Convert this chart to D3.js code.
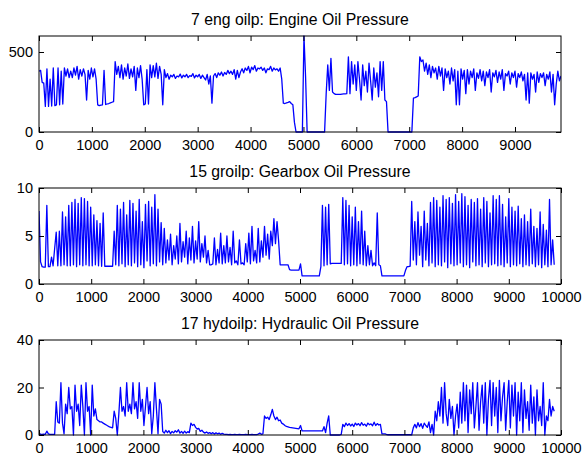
<!DOCTYPE html>
<html>
<head>
<meta charset="utf-8">
<script src="https://cdn.jsdelivr.net/npm/d3@7"></script>
<style>
  html, body { margin: 0; padding: 0; background: #fff; }
  svg { display: block; }
  text { font-family: "Liberation Sans", Arial, Helvetica, sans-serif; fill: #000; }
</style>
</head>
<body>
<svg id="chart" width="584" height="455"></svg>
<script>
// Sample spacing of the logged channels (record index units)
const sampleStep = 30;

// 7 eng oilp: Engine Oil Pressure
const engineOil = [
  380,385,310,305,160,395,160,330,162,400,
  165,170,400,170,380,175,400,350,395,340,
  380,340,400,355,410,330,390,350,395,360,
  200,385,330,400,345,395,330,170,165,168,
  170,385,172,175,178,182,186,190,440,360,
  410,340,420,330,400,350,425,335,395,345,
  410,260,400,340,415,330,170,175,390,175,
  420,340,415,345,430,335,410,360,170,390,
  340,365,330,355,345,360,335,350,345,362,
  338,355,345,360,340,352,348,365,338,355,
  345,360,335,355,340,325,360,300,350,180,
  350,365,340,370,355,375,350,372,360,385,
  365,380,360,390,330,385,340,375,395,370,
  400,385,410,370,405,390,415,380,400,395,
  405,385,400,370,395,390,410,380,400,388,
  395,380,400,330,180,178,182,185,190,178,
  170,60,0,0,0,0,0,600,350,0,
  0,0,0,0,0,0,0,0,0,0,
  0,240,420,260,460,250,240,235,235,235,
  235,237,238,238,240,470,240,440,300,420,
  260,440,330,200,420,290,380,250,430,320,
  200,400,280,370,220,440,260,440,200,190,
  0,0,0,0,0,0,0,0,0,0,
  0,0,0,0,0,0,212,215,220,225,
  470,440,450,380,430,360,420,340,410,370,
  400,330,410,350,400,260,395,340,380,300,
  400,320,390,170,380,170,395,330,385,240,
  390,300,380,340,395,260,370,335,390,320,
  380,290,375,340,390,250,370,345,385,310,
  375,330,390,260,365,350,380,300,370,340,
  380,280,365,340,375,320,360,200,370,180,
  370,330,360,250,375,310,365,340,370,290,
  360,330,375,250,360,170,300,380,320,350
];

// 15 groilp: Gearbox Oil Pressure
const gearboxOil = [
  7.6,2.3,1.8,1.75,1.75,8.2,1.8,1.8,2.8,1.9,
  3.7,5.4,1.9,5.5,1.9,7.5,2.0,7.0,1.9,8.2,
  1.9,8.5,2.0,8.8,1.8,8.4,2.0,9.0,1.9,8.9,
  2.0,8.6,1.9,8.0,1.9,7.2,2.0,6.6,1.9,6.3,
  1.85,7.4,1.85,1.85,1.85,1.85,1.85,1.85,5.5,2.0,
  8.2,1.9,7.8,2.1,8.5,1.8,7.2,2.0,8.7,1.9,
  8.4,2.2,7.6,1.8,8.8,2.0,6.5,1.7,8.3,2.4,
  8.6,1.9,8.0,2.1,9.3,1.9,7.8,2.3,6.4,2.0,
  5.8,2.2,4.6,2.5,5.2,2.0,4.0,2.6,5.0,2.1,
  6.3,2.3,4.4,2.8,5.5,2.1,4.8,2.5,6.0,2.2,
  4.5,2.6,6.5,2.3,4.2,2.8,5.0,2.2,3.5,2.0,
  2.0,2.1,4.8,2.0,3.6,2.2,5.3,2.1,4.0,2.2,
  5.0,2.3,3.8,2.0,5.5,2.2,2.4,2.0,4.6,2.1,
  2.2,2.0,4.2,2.3,5.3,2.1,6.0,2.4,3.5,2.2,
  5.8,2.3,4.5,2.8,6.0,3.0,5.2,2.6,5.5,4.0,
  6.8,4.2,6.5,4.5,2.0,2.0,2.0,2.0,2.0,2.0,
  1.5,1.45,1.45,1.45,1.45,1.45,1.45,2.1,0.85,0.85,
  0.85,0.85,0.85,0.85,0.85,0.85,0.85,0.85,0.85,0.85,
  1.8,8.2,1.9,8.0,2.0,8.3,2.1,2.15,2.15,2.15,
  2.15,2.15,2.15,2.15,9.0,2.0,8.7,2.1,8.2,1.9,
  7.0,2.0,8.0,1.9,6.5,2.1,7.6,2.0,5.5,1.9,
  4.0,2.0,3.5,1.9,2.2,1.9,7.4,2.0,1.9,0.85,
  0.85,0.85,0.85,0.85,0.85,0.85,0.85,0.85,0.85,0.85,
  0.85,0.85,0.85,0.85,1.4,1.8,1.8,1.85,8.6,2.5,
  6.5,2.0,7.5,3.0,6.0,1.8,7.6,2.5,6.3,1.9,
  8.5,2.2,9.0,1.8,8.7,2.0,8.0,1.9,9.2,2.3,
  8.8,1.7,9.0,2.1,8.4,1.9,9.3,2.0,8.6,2.2,
  9.4,1.8,9.1,2.0,8.2,1.7,8.8,2.3,8.5,1.9,
  8.9,2.0,7.8,1.8,9.0,2.2,8.6,1.8,7.4,2.0,
  9.2,2.1,8.8,1.9,9.2,2.0,8.3,1.8,7.0,2.2,
  8.9,1.8,8.0,2.0,7.6,1.9,8.1,2.1,6.8,1.8,
  7.2,2.0,6.5,1.9,7.8,2.1,6.0,1.8,5.8,2.0,
  7.5,1.7,6.2,2.0,5.6,1.8,8.8,2.0,4.6,2.0
];

// 17 hydoilp: Hydraulic Oil Pressure
const hydraulicOil = [
  0.8,0.3,0.3,0.4,0.3,1.6,0.5,0.3,0.3,0.3,
  0.3,14,5.5,5,22,5,0.5,13,9,20,
  11,12,0,21,10,13,4,21,12,0,
  22,10,12,0,21,8,11,6.5,6.0,5.5,
  5.5,5.0,4.6,4.2,3.8,3.4,3.2,3.0,10,7,
  0,9,20,10,12,8,22,10,13,9,
  22,11,14,7,22,10,15,4,12,20,
  9,14,0.5,8,22,11,0.5,15,13,1.5,
  0.8,2,1,1.8,0.6,1.5,0.9,1.8,1.2,2.2,
  0.8,1.5,0.7,1.6,0.8,1.4,1.0,5.0,4.0,4.5,
  3.2,2.5,2.8,1.5,2.0,1.2,0.8,1.3,0.7,1.0,
  0.5,1.0,0.4,0.9,0.5,0.8,0.3,0.7,0.4,0.3,
  0.3,0.2,0.3,0.2,0.2,0.3,0.2,0.2,0.3,0.2,
  0.2,0.2,0.3,0.2,0.2,0.2,0.3,0.2,0.2,0.2,
  0.4,0.8,0.3,0.5,8.0,7.0,7.5,6.5,8.5,10.8,
  8.0,6.5,7.5,6.0,6.3,5.0,4.6,4.0,3.6,3.4,
  3.2,3.1,3.0,2.9,2.8,2.7,2.6,4.0,1.7,1.7,
  1.7,1.7,1.7,1.7,1.7,1.7,1.7,1.7,1.7,1.7,
  1.7,1.7,3.5,1.0,5,8,0,0,0,0,
  0,0,0,0.3,4.5,3.5,5.0,4.0,4.8,3.8,
  4.6,3.6,5.0,4.2,4.8,3.9,5.2,4.1,4.6,3.7,
  5.0,4.3,4.7,3.9,5.4,4.0,4.8,4.2,4.5,0.5,
  0.5,0.5,0.2,0.1,0.1,0.1,0.1,0.1,0.1,0.1,
  0.1,0.1,0.1,0.1,0.1,0.1,0.1,0.1,0.1,3,
  4.5,3.0,5.2,3.5,4.8,2.8,5.0,4.0,3.2,5.5,
  1.0,4.5,0,10,6,14,8,20,5,22,
  9,4,15,7,12,0,8,13,3,18,
  5,22,6,21,1,19,9,22,3,12,
  22,2,14,21,5,22,0,15,23,4,
  22,8,20,1,23,6,16,22,2,14,
  23,3,21,8,22,0,18,6,22,1,
  19,7,14,2,21,5,16,0,19,6,
  12,4,22,0,8,6,15,8,12,10
];

// Panel titles and axis ticks
const titles = [
  "7 eng oilp: Engine Oil Pressure",
  "15 groilp: Gearbox Oil Pressure",
  "17 hydoilp: Hydraulic Oil Pressure"
];
const xTicksEngine = [0,1000,2000,3000,4000,5000,6000,7000,8000,9000];
const xTicksOther = [0,1000,2000,3000,4000,5000,6000,7000,8000,9000,10000];
const yTicksEngine = [0,500];
const yTicksGearbox = [0,5,10];
const yTicksHydraulic = [0,20,40];

const panels = [
  { values: engineOil,    title: titles[0], xMax: 9870,  yMax: 600, xTicks: xTicksEngine, yTicks: yTicksEngine,    top: 36,  bottom: 132 },
  { values: gearboxOil,   title: titles[1], xMax: 10000, yMax: 10,  xTicks: xTicksOther,  yTicks: yTicksGearbox,   top: 188, bottom: 284 },
  { values: hydraulicOil, title: titles[2], xMax: 10000, yMax: 40,  xTicks: xTicksOther,  yTicks: yTicksHydraulic, top: 340, bottom: 435 }
];

const left = 39, right = 561, tickLen = 5;
const tickFont = 14.5, titleFont = 15.8;
const svg = d3.select("#chart");

panels.forEach((p, k) => {
  const x = d3.scaleLinear().domain([0, p.xMax]).range([left, right]);
  const y = d3.scaleLinear().domain([0, p.yMax]).range([p.bottom, p.top]);
  const g = svg.append("g");

  const clipId = "clip" + k;
  g.append("clipPath").attr("id", clipId)
    .append("rect")
    .attr("x", left).attr("y", p.top - 1)
    .attr("width", right - left).attr("height", p.bottom - p.top + 2);

  const line = d3.line()
    .x((d, i) => x(i * sampleStep))
    .y(d => y(d));

  g.append("path")
    .datum(p.values)
    .attr("clip-path", `url(#${clipId})`)
    .attr("fill", "none")
    .attr("stroke", "#0000ff")
    .attr("stroke-width", 1.3)
    .attr("stroke-linejoin", "round")
    .attr("d", line);

  // bottom axis with labels, ticks pointing inward
  const bottomAxis = g.append("g")
    .attr("transform", `translate(0,${p.bottom})`)
    .call(d3.axisBottom(x).tickValues(p.xTicks).tickSize(-tickLen).tickPadding(8).tickFormat(d3.format("d")));
  // top axis, ticks only
  const topAxis = g.append("g")
    .attr("transform", `translate(0,${p.top})`)
    .call(d3.axisTop(x).tickValues(p.xTicks).tickSize(-tickLen).tickFormat(""));
  // left axis with labels
  const leftAxis = g.append("g")
    .attr("transform", `translate(${left},0)`)
    .call(d3.axisLeft(y).tickValues(p.yTicks).tickSize(-tickLen).tickPadding(6));
  // right axis, ticks only
  const rightAxis = g.append("g")
    .attr("transform", `translate(${right},0)`)
    .call(d3.axisRight(y).tickValues(p.yTicks).tickSize(-tickLen).tickFormat(""));

  [bottomAxis, topAxis, leftAxis, rightAxis].forEach(a => {
    a.select(".domain").remove();
    a.selectAll("line").attr("stroke", "#000").attr("stroke-width", 1);
    a.selectAll("text")
      .style("font-family", '"Liberation Sans", Arial, Helvetica, sans-serif')
      .style("font-size", tickFont + "px")
      .attr("fill", "#000");
  });

  // axes box
  g.append("rect")
    .attr("x", left).attr("y", p.top)
    .attr("width", right - left).attr("height", p.bottom - p.top)
    .attr("fill", "none").attr("stroke", "#000").attr("stroke-width", 1);

  g.append("text")
    .attr("x", (left + right) / 2)
    .attr("y", p.top - 11)
    .attr("text-anchor", "middle")
    .style("font-size", titleFont + "px")
    .text(p.title);
});
</script>
</body>
</html>
